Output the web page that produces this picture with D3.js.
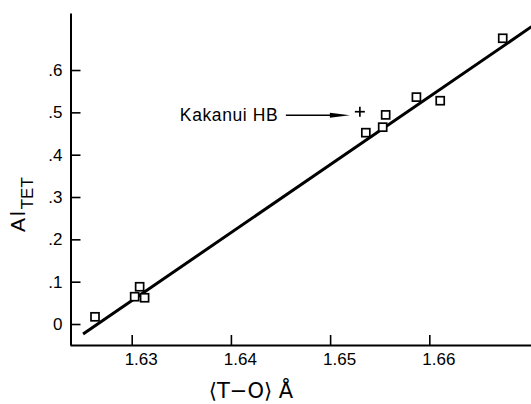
<!DOCTYPE html>
<html><head><meta charset="utf-8">
<script src="https://cdn.jsdelivr.net/npm/d3@7"></script>
<style>
body{margin:0;background:#fff}
text{font-family:"Liberation Sans",Arial,sans-serif;fill:#000}
</style></head><body>
<svg id="c" width="531" height="404"></svg>
<script>
// Data
const tetDist = [1.6263, 1.6303, 1.6308, 1.6313, 1.6536, 1.6553, 1.6556, 1.6587, 1.6611, 1.6674];
const alTet   = [0.017, 0.0645, 0.088, 0.062, 0.452, 0.465, 0.494, 0.536, 0.5275, 0.675];
const kakanuiX = [1.6530];
const kakanuiY = [0.5015];
const kakanuiLabel = ["Kakanui HB"];
const fitX = [1.6251, 1.6703];
const fitY = [-0.0236, 0.7023];
const xTicks = [1.63, 1.64, 1.65, 1.66];
const xTickLabels = ["1.63", "1.64", "1.65", "1.66"];
const yTicks = [0, 0.1, 0.2, 0.3, 0.4, 0.5, 0.6];
const yTickLabels = ["0", ".1", ".2", ".3", ".4", ".5", ".6"];

const svg = d3.select("#c");
const x = d3.scaleLinear().domain([1.62378, 1.67025]).range([70, 531]);
const y = d3.scaleLinear().domain([-0.0496, 0.7347]).range([345, 13]);

// fit line
svg.append("path")
  .datum(fitX.map((d, i) => [d, fitY[i]]))
  .attr("d", d3.line().x(d => x(d[0])).y(d => y(d[1])))
  .attr("stroke", "#000").attr("stroke-width", 3).attr("fill", "none");

// axes
const xAxis = svg.append("g").attr("transform", "translate(0,345)")
  .call(d3.axisBottom(x).tickValues(xTicks).tickFormat((d, i) => xTickLabels[i])
    .tickSizeInner(-10).tickSizeOuter(0).tickPadding(8));
xAxis.select(".domain").attr("stroke-width", 2);
xAxis.selectAll(".tick line").attr("stroke-width", 1.6);
xAxis.selectAll(".tick text").attr("font-size", 17).attr("dx", 9)
  .style("font-family", "'Liberation Sans',Arial,sans-serif");

const yAxis = svg.append("g").attr("transform", "translate(70.5,0)")
  .call(d3.axisLeft(y).tickValues(yTicks).tickFormat((d, i) => yTickLabels[i])
    .tickSizeInner(-10).tickSizeOuter(0).tickPadding(8));
yAxis.select(".domain").attr("stroke-width", 2);
yAxis.selectAll(".tick line").attr("stroke-width", 1.6);
yAxis.selectAll(".tick text").attr("font-size", 17)
  .style("font-family", "'Liberation Sans',Arial,sans-serif");

// squares
const sz = 8;
svg.append("g").selectAll("rect").data(tetDist).join("rect")
  .attr("x", d => x(d) - sz / 2)
  .attr("y", (d, i) => y(alTet[i]) - sz / 2)
  .attr("width", sz).attr("height", sz)
  .attr("fill", "#fff").attr("stroke", "#000").attr("stroke-width", 1.7);

// Kakanui plus
const kx = x(kakanuiX[0]), ky = y(kakanuiY[0]);
const plus = svg.append("g").attr("stroke", "#000").attr("stroke-width", 1.7);
plus.append("line").attr("x1", kx - 5).attr("x2", kx + 5).attr("y1", ky).attr("y2", ky);
plus.append("line").attr("x1", kx).attr("x2", kx).attr("y1", ky - 5).attr("y2", ky + 5);

// annotation arrow
const ay = ky + 3.5;
svg.append("line").attr("x1", kx - 74).attr("x2", kx - 20).attr("y1", ay).attr("y2", ay)
  .attr("stroke", "#000").attr("stroke-width", 1.5);
svg.append("path")
  .attr("d", `M${kx - 30},${ay - 2.5} L${kx - 10},${ay} L${kx - 30},${ay + 2.5} Z`)
  .attr("fill", "#000");
svg.append("text").attr("x", kx - 180).attr("y", ky + 9.5)
  .attr("font-size", 17.5).attr("letter-spacing", 0.6).text(kakanuiLabel[0]);

// axis titles
svg.append("text").attr("x", 251).attr("y", 398).attr("text-anchor", "middle")
  .attr("font-size", 21).style("font-family", "'DejaVu Sans',sans-serif")
  .text("\u27E8T\u2212O\u27E9 \u00C5");

const yt = svg.append("text").attr("transform", "translate(25,232) rotate(-90)")
  .attr("font-size", 21);
yt.append("tspan").attr("letter-spacing", 2).text("Al");
yt.append("tspan").attr("dy", 8).attr("font-size", 17).text("TET");
</script>
</body></html>
